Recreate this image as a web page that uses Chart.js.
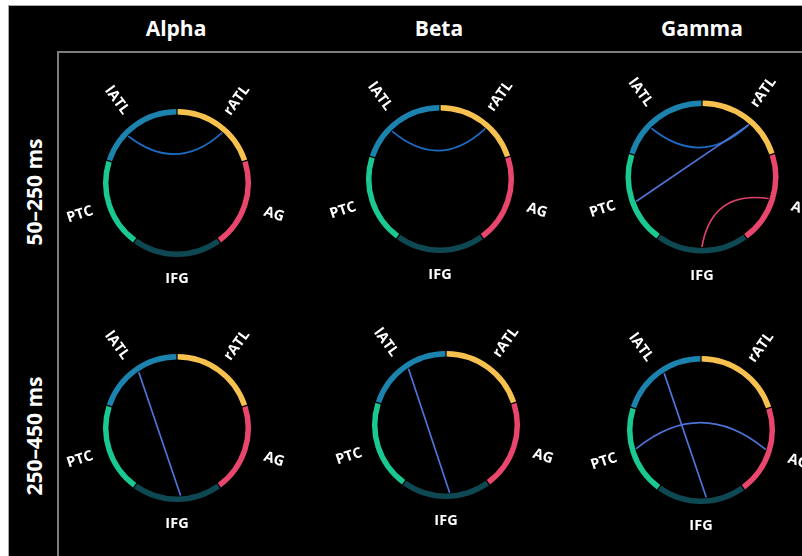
<!DOCTYPE html>
<html>
<head>
<meta charset="utf-8">
<script src="https://cdn.jsdelivr.net/npm/chart.js@4.4.1/dist/chart.umd.min.js"></script>
<style>
html,body{margin:0;padding:0;background:#fff;width:802px;height:556px;overflow:hidden;position:relative;font-family:"Open Sans","Noto Sans",sans-serif;}
#frame{position:absolute;left:8px;top:5px;width:794px;height:551px;background:#000;border-top:1px solid #a8a8a8;border-left:1px solid #a8a8a8;box-sizing:border-box;}
#vline{position:absolute;left:57px;top:52px;width:2px;height:504px;background:#7c7c7c;}
#hline{position:absolute;left:57px;top:51px;width:745px;height:2px;background:#7c7c7c;}
.title{position:absolute;top:14px;color:#fff;font-weight:700;font-size:21px;transform:translateX(-50%);white-space:nowrap;}
.rowlab{position:absolute;color:#fff;font-weight:700;font-size:21px;white-space:nowrap;transform:translate(-50%,-50%) rotate(-90deg);}
canvas.panel{position:absolute;}
</style>
</head>
<body>
<div id="frame"></div>
<div id="vline"></div>
<div id="hline"></div>
<script>
// ---------- data ----------
const bands = ['Alpha', 'Beta', 'Gamma'];
const timeWindows = ['50–250 ms', '250–450 ms'];
const regions = ['rATL', 'AG', 'IFG', 'PTC', 'lATL'];
const regionWeights = [1, 1, 1, 1, 1];
const regionColors = ['#f6c14e', '#e8466c', '#0e4852', '#19c991', '#1b83ae'];

// links: [from region, attach position in from-region (0-1), to region, attach position]
const linksAlphaEarly = [['lATL', 0.36, 'rATL', 0.58]];
const linksBetaEarly  = [['lATL', 0.375, 'rATL', 0.58]];
const linksGammaEarly = [['lATL', 0.36, 'rATL', 0.58], ['rATL', 0.58, 'PTC', 0.47], ['AG', 0.5, 'IFG', 0.5]];
const linksAlphaLate  = [['lATL', 0.52, 'IFG', 0.46]];
const linksBetaLate   = [['lATL', 0.53, 'IFG', 0.46]];
const linksGammaLate  = [['lATL', 0.54, 'IFG', 0.44], ['PTC', 0.53, 'AG', 0.48]];

// ---------- styles / layout ----------
const curveBlue = '#1d6cc4', lineBlue = '#4f73d6', pinkLink = '#dc416a';
const linkStyles = {
  AlphaEarly: [{bend: 0.8, color: curveBlue}],
  BetaEarly:  [{bend: 0.83, color: curveBlue}],
  GammaEarly: [{bend: 0.82, color: curveBlue}, {bend: 0, color: lineBlue}, {bend: 0.7, color: pinkLink}],
  AlphaLate:  [{bend: 0, color: lineBlue}],
  BetaLate:   [{bend: 0, color: lineBlue}],
  GammaLate:  [{bend: 0, color: lineBlue}, {bend: 2.8, color: lineBlue}]
};
const panels = [
  {key: 'AlphaEarly', links: linksAlphaEarly, cx: 176.7, cy: 182.5, r: 74},
  {key: 'BetaEarly',  links: linksBetaEarly,  cx: 439.5, cy: 178.5, r: 74},
  {key: 'GammaEarly', links: linksGammaEarly, cx: 701.7, cy: 176.5, r: 76.5},
  {key: 'AlphaLate',  links: linksAlphaLate,  cx: 176.8, cy: 428.3, r: 74},
  {key: 'BetaLate',   links: linksBetaLate,   cx: 445.8, cy: 425.3, r: 74},
  {key: 'GammaLate',  links: linksGammaLate,  cx: 701.0, cy: 429.5, r: 74}
];
const titleX = [176, 439, 702];
const rowLabelY = [192, 436];

bands.forEach((b, i) => {
  const d = document.createElement('div');
  d.className = 'title'; d.textContent = b; d.style.left = titleX[i] + 'px';
  document.body.appendChild(d);
});
timeWindows.forEach((t, i) => {
  const d = document.createElement('div');
  d.className = 'rowlab'; d.textContent = t;
  d.style.left = '34px'; d.style.top = rowLabelY[i] + 'px';
  document.body.appendChild(d);
});

const chordPlugin = {
  id: 'chords',
  afterDatasetsDraw(chart, args, opts) {
    const ctx = chart.ctx;
    const arcs = chart.getDatasetMeta(0).data;
    const cx = arcs[0].x, cy = arcs[0].y;
    const rIn = arcs[0].innerRadius - 0.5;
    const labels = chart.data.labels;
    const at = (reg, f) => {
      const a = arcs[labels.indexOf(reg)];
      const ang = a.startAngle + f * (a.endAngle - a.startAngle);
      return [cx + rIn * Math.cos(ang), cy + rIn * Math.sin(ang)];
    };
    ctx.save();
    ctx.lineWidth = 1.7;
    ctx.lineCap = 'round';
    opts.links.forEach((l, k) => {
      const st = opts.styles[k];
      const p0 = at(l[0], l[1]), p1 = at(l[2], l[3]);
      const mx = (p0[0] + p1[0]) / 2, my = (p0[1] + p1[1]) / 2;
      const c0 = mx + st.bend * (cx - mx), c1 = my + st.bend * (cy - my);
      ctx.strokeStyle = st.color;
      ctx.beginPath();
      ctx.moveTo(p0[0], p0[1]);
      ctx.quadraticCurveTo(c0, c1, p1[0], p1[1]);
      ctx.stroke();
    });
    // region labels
    ctx.fillStyle = '#fff';
    ctx.font = 'bold 14.5px "Open Sans", "Noto Sans", sans-serif';
    ctx.textAlign = 'center';
    ctx.textBaseline = 'middle';
    arcs.forEach((a, i) => {
      const mid = (a.startAngle + a.endAngle) / 2;
      let deg = (mid * 180 / Math.PI + 90 + 360) % 360;
      const horiz = deg > 150 && deg < 210;
      const R = a.outerRadius + (horiz ? 23 : 29);
      const x = cx + R * Math.cos(mid), y = cy + R * Math.sin(mid);
      const rot = horiz ? 0 : (deg < 180 ? deg - 90 : deg - 270);
      ctx.save();
      ctx.translate(x, y);
      ctx.rotate(rot * Math.PI / 180);
      ctx.fillText(labels[i], 0, 0);
      ctx.restore();
    });
    ctx.restore();
  }
};

const SIZE = 280;
panels.forEach(p => {
  const cv = document.createElement('canvas');
  cv.className = 'panel';
  cv.width = SIZE; cv.height = SIZE;
  cv.style.width = SIZE + 'px'; cv.style.height = SIZE + 'px';
  cv.style.left = (p.cx - SIZE / 2) + 'px';
  cv.style.top = (p.cy - SIZE / 2) + 'px';
  document.body.appendChild(cv);
  const outer = p.r - 1;
  new Chart(cv, {
    type: 'doughnut',
    data: {
      labels: regions,
      datasets: [{data: regionWeights, backgroundColor: regionColors, borderWidth: 0, spacing: 2}]
    },
    options: {
      responsive: false,
      animation: false,
      events: [],
      radius: outer,
      cutout: ((outer - 5.5) / outer * 100) + '%',
      plugins: {
        legend: {display: false},
        tooltip: {enabled: false},
        chords: {links: p.links, styles: linkStyles[p.key]}
      }
    },
    plugins: [chordPlugin]
  });
});
</script>
</body>
</html>
